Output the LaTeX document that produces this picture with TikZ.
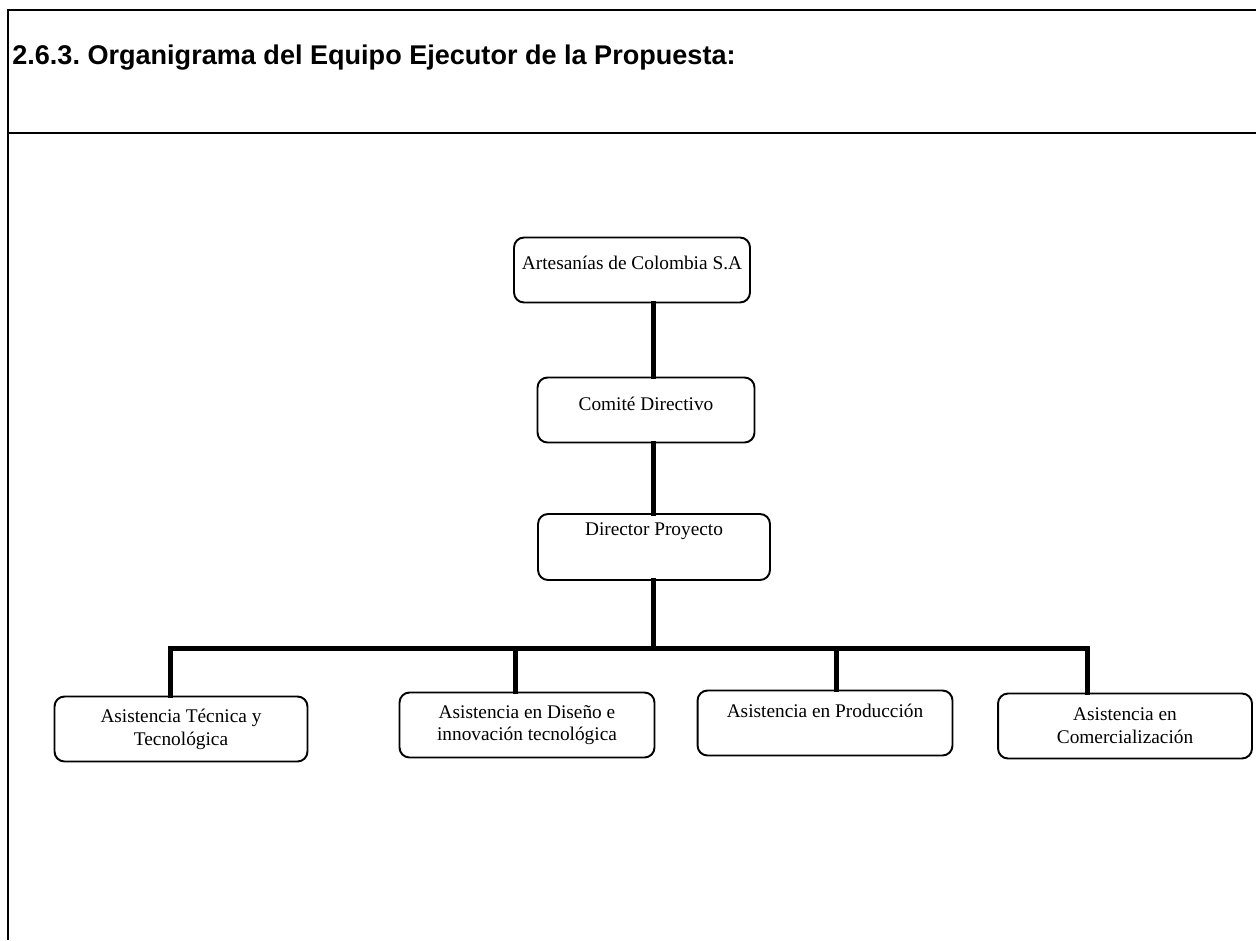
\documentclass[tikz,border=0pt]{standalone}
\usepackage{fontspec}
\setmainfont{Liberation Serif}
\newfontfamily\titlefont{Liberation Sans}
\usetikzlibrary{positioning}
\usetikzlibrary{calc}

\tikzset{
  unit/.style={draw, rounded corners=0.2cm, line width=1.1pt, fill=white,
    minimum width=#1, minimum height=1.3cm, align=center,
    font=\fontsize{11}{13}\selectfont, inner sep=0.07cm},
  lift/.style={text height=0.3cm, text depth=#1},
  link/.style={line width=0.1cm, line cap=rect},
  frame/.style={line width=0.8pt},
}

\begin{document}
\frenchspacing
\begin{tikzpicture}[x=0.02cm, y=-0.02cm]

  \useasboundingbox (0,0) rectangle (1256,940);

  % frame of the form
  \coordinate (fTL) at (8,10);
  \coordinate (fTR) at (1256,10);
  \coordinate (fBL) at (8,940);
  \coordinate (fML) at (8,133);
  \coordinate (fMR) at (1256,133);
  \draw[frame] (fTR) -- (fTL) -- (fBL);
  \draw[frame] (fML) -- (fMR);

  % heading
  \node[anchor=west, inner sep=0pt, font=\titlefont\fontsize{15.4}{18}\bfseries]
    (title) at (12,58) {2.6.3. Organigrama del Equipo Ejecutor de la Propuesta:};

  % upper chain
  \node[unit=4.72cm, lift=0.34cm] (adc) at (632,270) {Artesan\'{\i}as de Colombia S.A};
  \node[unit=4.34cm, lift=0.30cm] (comite) at (646,410) {Comit\'e Directivo};
  \node[unit=4.64cm, minimum height=1.32cm, lift=0.78cm] (director) at (654,547) {Director Proyecto};

  % lower row
  \node[unit=5.06cm] (b1) at (181,729) {Asistencia T\'ecnica y\\Tecnol\'ogica};
  \node[unit=5.1cm]  (b2) at (527,725) {Asistencia en Dise\~no e\\innovaci\'on tecnol\'ogica};
  \node[unit=5.1cm, lift=0.54cm] (b3) at (825,723) {Asistencia en Producci\'on};
  \node[unit=5.08cm] (b4) at (1125,726) {Asistencia en\\Comercializaci\'on};

  % spine and branches
  \coordinate (spine) at (653,648);
  \coordinate (d1) at (170,648);
  \coordinate (d2) at (515,648);
  \coordinate (d3) at (836,648);
  \coordinate (d4) at (1087,648);

  \draw[link] (adc.south -| spine) -- (comite.north -| spine);
  \draw[link] (comite.south -| spine) -- (director.north -| spine);
  \draw[link] (director.south -| spine) -- (spine);
  \draw[link] (d1) -- (d4);
  \foreach \i in {1,...,4}
    \draw[link] (d\i) -- (d\i |- b\i.north);

\end{tikzpicture}
\end{document}
